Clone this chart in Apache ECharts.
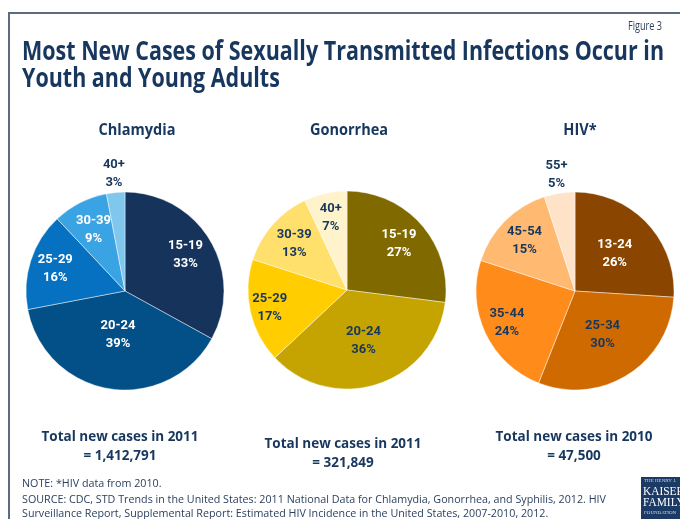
<!DOCTYPE html>
<html><head><meta charset="utf-8">
<script src="https://cdn.jsdelivr.net/npm/echarts@6/dist/echarts.min.js"></script>
<style>html,body{margin:0;padding:0;background:#fff}#c{width:680px;height:519px}</style>
</head><body><div id="c"></div>
<script>
const FONT = '"Open Sans", "Noto Sans", sans-serif';
const LABEL_FONT = 'Roboto, "Open Sans", sans-serif';
const NAVY = '#17375e';
const NOTE_COLOR = '#2b3f5e';

const chlamydiaAges = ['15-19', '20-24', '25-29', '30-39', '40+'];
const chlamydiaPct = [33, 39, 16, 9, 3];
const gonorrheaAges = ['15-19', '20-24', '25-29', '30-39', '40+'];
const gonorrheaPct = [27, 36, 17, 13, 7];
const hivAges = ['13-24', '25-34', '35-44', '45-54', '55+'];
const hivPct = [26, 30, 24, 15, 5];

const pieTitles = ['Chlamydia', 'Gonorrhea', 'HIV*'];
const totalHeads = ['Total new cases in 2011', 'Total new cases in 2011', 'Total new cases in 2010'];
const totalValues = ['= 1,412,791', '= 321,849', '= 47,500'];
const titleLines = ['Most New Cases of Sexually Transmitted Infections Occur in', 'Youth and Young Adults'];
const noteLines = ['NOTE: *HIV data from 2010.',
  'SOURCE: CDC, STD Trends in the United States: 2011 National Data for Chlamydia, Gonorrhea, and Syphilis, 2012. HIV',
  'Surveillance Report, Supplemental Report: Estimated HIV Incidence in the United States, 2007-2010, 2012.'];

// ---- styling / layout (not data) ----
const pieStyles = [
  { center: [125, 291], colors: ['#15335b', '#034f87', '#0571c0', '#3aa3e3', '#80c7ee'], white: 4, labelR: [0.71, 0.45, 0.74, 0.70, 1.19] },
  { center: [347, 290], colors: ['#806a00', '#c5a300', '#ffcd00', '#ffe06c', '#fff3cb'], white: 1, labelR: [0.70, 0.54, 0.80, 0.71, 0.75] },
  { center: [575, 291], colors: ['#8a4500', '#cf6a00', '#ff8c1a', '#ffb971', '#ffe3c9'], white: 1, labelR: [0.55, 0.52, 0.76, 0.72, 1.19] }
];
const RADIUS = 99;
const pieData = [[chlamydiaAges, chlamydiaPct], [gonorrheaAges, gonorrheaPct], [hivAges, hivPct]];

function midAngle(values, i) {
  const total = values.reduce((a, b) => a + b, 0);
  let before = 0;
  for (let k = 0; k < i; k++) before += values[k];
  return ((before + values[i] / 2) / total) * Math.PI * 2; // clockwise from top
}

function buildSeries(si) {
  const [ages, pct] = pieData[si];
  const st = pieStyles[si];
  return {
    type: 'pie', center: st.center, radius: RADIUS, startAngle: 90, clockwise: true,
    silent: true, animation: false, avoidLabelOverlap: false,
    itemStyle: { borderColor: 'rgba(255,255,255,0.75)', borderWidth: 0.6 },
    label: { show: true, position: 'outside', formatter: '{b}\n{c}%', fontFamily: LABEL_FONT,
      fontWeight: 'bold', fontSize: 13, lineHeight: 18, align: 'center' },
    labelLine: { show: false, length: 4, length2: 0 },
    labelLayout: function (p) {
      const values = pieData[p.seriesIndex][1];
      const s = pieStyles[p.seriesIndex];
      const a = midAngle(values, p.dataIndex);
      const r = RADIUS * s.labelR[p.dataIndex];
      return { x: s.center[0] + Math.sin(a) * r, y: s.center[1] - Math.cos(a) * r,
        align: 'center', verticalAlign: 'middle', hideOverlap: false };
    },
    data: ages.map((a, i) => {
      const inside = st.labelR[i] < 1;
      return { name: a, value: pct[i], itemStyle: { color: st.colors[i] },
        label: { color: (inside && i < st.white) ? '#ffffff' : NAVY } };
    })
  };
}

// text helpers: real text elements, horizontally condensed to mimic the narrow original face
const ctx = document.createElement('canvas').getContext('2d');
function measure(text, font) { ctx.font = font; return ctx.measureText(text).width; }
function textEl(text, x, y, font, fill, scaleX, align) {
  return { type: 'text', x: x, y: y, scaleX: scaleX, scaleY: 1, silent: true,
    style: { text: text, font: font, fill: fill, align: align || 'left', verticalAlign: 'middle' } };
}

const graphics = [];
graphics.push({ type: 'polyline', silent: true, shape: { points: [[9, 530], [9, 13], [690, 13]] }, style: { stroke: '#5c6b80', lineWidth: 2, fill: null } });

// Figure 3
const figFont = 'normal 12px ' + FONT;
graphics.push(textEl('Figure 3', 662, 27, figFont, NOTE_COLOR, 34 / measure('Figure 3', figFont), 'right'));

// Title
const titleFont = 'bold 26px ' + FONT;
const tScale = 642 / measure(titleLines[0], titleFont);
graphics.push(textEl(titleLines[0], 22, 53, titleFont, NAVY, tScale));
graphics.push(textEl(titleLines[1], 22, 80, titleFont, NAVY, tScale));

// Pie titles
const subFont = 'bold 16px ' + FONT;
const sScale = 77 / measure(pieTitles[0], subFont);
const subX = [137, 349, 580];
pieTitles.forEach((t, i) => graphics.push(textEl(t, subX[i], 130, subFont, NAVY, sScale, 'center')));

// Totals
const totFont = 'bold 15px ' + FONT;
const totScale = 157 / measure(totalHeads[0], totFont);
const totX = [120, 343, 574];
const totY = [437, 444, 437];
totalHeads.forEach((t, i) => {
  graphics.push(textEl(t, totX[i], totY[i], totFont, NAVY, totScale, 'center'));
  graphics.push(textEl(totalValues[i], totX[i], totY[i] + 19, totFont, NAVY, totScale, 'center'));
});

// Notes
const noteFont = 'normal 11.5px ' + FONT;
const nScale = 584 / measure(noteLines[1], noteFont);
const noteY = [484, 500, 514];
noteLines.forEach((t, i) => graphics.push(textEl(t, 22, noteY[i], noteFont, NOTE_COLOR, nScale)));

// Logo
graphics.push({ type: 'rect', silent: true, shape: { x: 641, y: 477, width: 42, height: 44 }, style: { fill: '#1b3a66' } });
graphics.push(textEl('THE HENRY J.', 644, 481, '5px serif', '#d0d8e4', 1));
graphics.push(textEl('KAISER', 643, 492, '12px serif', '#ffffff', 0.95));
graphics.push(textEl('FAMILY', 643, 503, '12px serif', '#ffffff', 0.95));
graphics.push(textEl('FOUNDATION', 644, 513, '5px serif', '#d0d8e4', 1));

const chart = echarts.init(document.getElementById('c'), null, { renderer: 'canvas' });
chart.setOption({
  backgroundColor: '#ffffff',
  graphic: graphics,
  series: [buildSeries(0), buildSeries(1), buildSeries(2)]
});
</script></body></html>
